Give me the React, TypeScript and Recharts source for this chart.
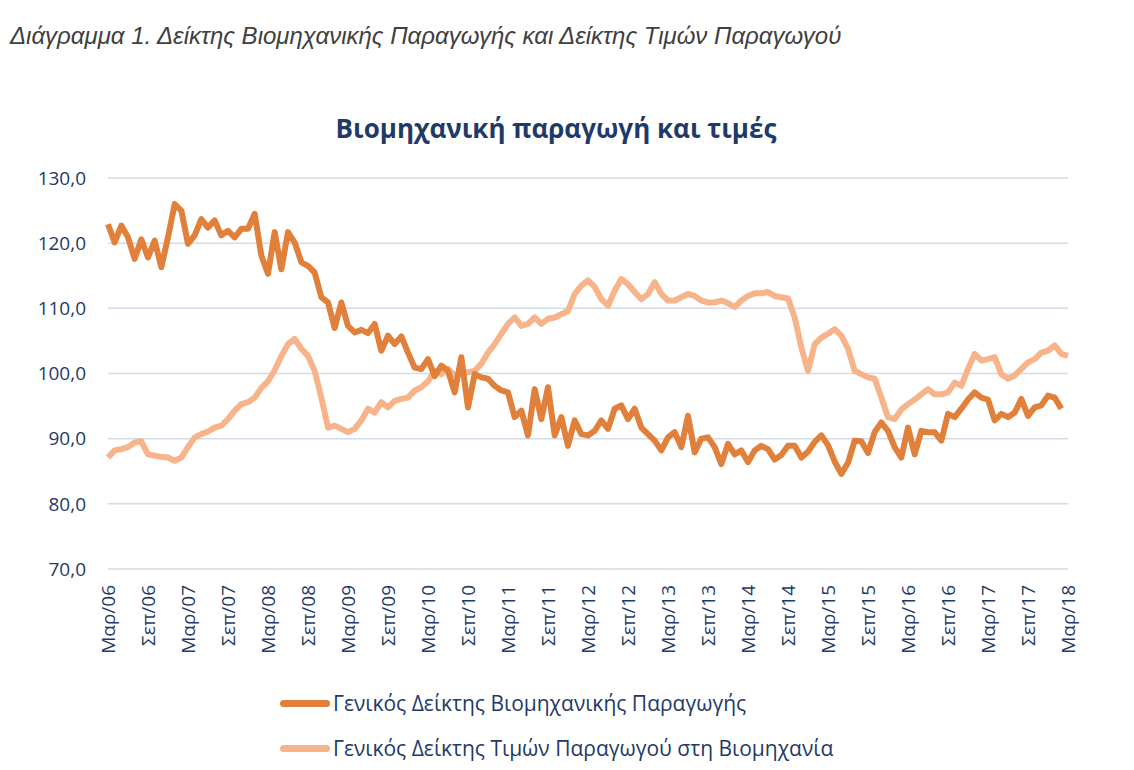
import { LineChart, Line, XAxis, YAxis, CartesianGrid } from 'recharts';

// month labels, Mar/06 .. Mar/18
const monthNames = ['Ιαν', 'Φεβ', 'Μαρ', 'Απρ', 'Μαϊ', 'Ιουν', 'Ιουλ', 'Αυγ', 'Σεπ', 'Οκτ', 'Νοε', 'Δεκ'];
const years = ['06', '07', '08', '09', '10', '11', '12', '13', '14', '15', '16', '17', '18'];

const categories: string[] = [];
years.forEach((yy, yi) => {
  monthNames.forEach((m, mi) => {
    if ((yi === 0 && mi < 2) || (yi === years.length - 1 && mi > 2)) return;
    categories.push(m + '/' + yy);
  });
});

// Γενικός Δείκτης Βιομηχανικής Παραγωγής
const industrialProduction: (number | null)[] = [
  122.9, 120.1, 122.7, 120.9, 117.6, 120.6, 117.8, 120.4, 116.3, 120.9,
  126.0, 125.0, 119.9, 121.2, 123.7, 122.4, 123.5, 121.2, 121.9, 120.9,
  122.2, 122.2, 124.5, 118.1, 115.3, 121.7, 116.0, 121.7, 120.1, 117.1,
  116.5, 115.5, 111.7, 110.9, 107.0, 110.9, 107.3, 106.3, 106.7, 106.2,
  107.6, 103.5, 105.8, 104.5, 105.7, 103.2, 100.9, 100.7, 102.2, 99.6,
  101.2, 100.4, 97.1, 102.5, 94.8, 99.9, 99.4, 99.2, 98.1, 97.4,
  97.1, 93.3, 94.3, 90.5, 97.6, 93.0, 97.9, 90.5, 93.3, 88.9,
  92.8, 90.7, 90.5, 91.2, 92.8, 91.5, 94.6, 95.1, 93.0, 94.6,
  91.7, 90.7, 89.7, 88.2, 90.2, 91.0, 88.7, 93.5, 87.9, 90.0,
  90.2, 88.7, 86.1, 89.2, 87.6, 88.2, 86.4, 88.2, 88.9, 88.4,
  86.8, 87.5, 88.9, 88.9, 87.1, 88.0, 89.5, 90.5, 89.0, 86.5,
  84.6, 86.3, 89.7, 89.6, 87.8, 91.0, 92.5, 91.2, 88.7, 87.1,
  91.7, 87.6, 91.2, 91.0, 91.0, 89.7, 93.8, 93.3, 94.6, 96.0,
  97.1, 96.3, 96.0, 92.8, 93.8, 93.3, 94.0, 96.1, 93.5, 94.8,
  95.1, 96.6, 96.3, 94.6, null,
];

// Γενικός Δείκτης Τιμών Παραγωγού στη Βιομηχανία
const producerPrices: number[] = [
  87.1, 88.2, 88.4, 88.7, 89.4, 89.6, 87.6, 87.4, 87.2, 87.1,
  86.6, 87.1, 88.7, 90.2, 90.7, 91.1, 91.7, 92.0, 93.0, 94.3,
  95.3, 95.6, 96.3, 97.8, 98.8, 100.5, 102.7, 104.5, 105.3, 103.8,
  102.7, 100.4, 96.3, 91.7, 92.0, 91.5, 91.0, 91.5, 92.8, 94.6,
  94.0, 95.6, 94.8, 95.8, 96.1, 96.3, 97.4, 97.9, 98.8, 100.4,
  99.9, 100.7, 99.7, 99.9, 100.2, 100.4, 101.5, 103.2, 104.5, 106.1,
  107.6, 108.6, 107.3, 107.6, 108.6, 107.6, 108.4, 108.6, 109.1, 109.6,
  112.2, 113.5, 114.3, 113.3, 111.4, 110.4, 112.7, 114.5, 113.7, 112.5,
  111.4, 112.2, 114.0, 112.2, 111.2, 111.2, 111.7, 112.2, 111.9, 111.2,
  110.9, 110.9, 111.2, 110.8, 110.2, 111.2, 111.9, 112.3, 112.3, 112.5,
  111.9, 111.7, 111.5, 108.6, 104.0, 100.4, 104.5, 105.5, 106.1, 106.8,
  105.8, 103.8, 100.4, 99.9, 99.4, 99.2, 96.3, 93.3, 93.0, 94.5,
  95.3, 96.0, 96.8, 97.6, 96.8, 96.8, 97.1, 98.6, 98.1, 100.7,
  103.0, 102.0, 102.2, 102.5, 99.9, 99.2, 99.7, 100.7, 101.7, 102.2,
  103.2, 103.5, 104.3, 103.0, 102.7,
];

const yTicks = [70, 80, 90, 100, 110, 120, 130];

const data = categories.map((name, i) => ({
  name,
  ip: industrialProduction[i],
  ppi: producerPrices[i],
}));

const navy = '#1F3A68';
const darkOrange = '#E0803A';
const lightOrange = '#F7B38A';
const font = '"Open Sans", "Noto Sans", sans-serif';

const XTick = (props: any) => {
  const { x, y, payload } = props;
  return (
    <text
      x={x}
      y={y}
      transform={`rotate(-90 ${x} ${y})`}
      textAnchor="end"
      dy="0.36em"
      fill={navy}
      fontSize={19}
      fontFamily={font}
    >
      {payload.value}
    </text>
  );
};

const App = () => {
  return (
    <div style={{ position: 'absolute', left: 0, top: 0, width: 1134, height: 770, background: '#fff' }}>
      <div
        style={{
          position: 'absolute',
          left: 10,
          top: 22,
          fontFamily: '"Liberation Sans", Arial, sans-serif',
          fontStyle: 'italic',
          fontSize: 24,
          color: '#404040',
          whiteSpace: 'nowrap',
        }}
      >
        Διάγραμμα 1. Δείκτης Βιομηχανικής Παραγωγής και Δείκτης Τιμών Παραγωγού
      </div>
      <div
        style={{
          position: 'absolute',
          left: 0,
          width: 1112,
          top: 110,
          textAlign: 'center',
          fontFamily: font,
          fontWeight: 700,
          fontSize: 26,
          color: navy,
          whiteSpace: 'nowrap',
        }}
      >
        Βιομηχανική παραγωγή και τιμές
      </div>

      <LineChart
        width={1134}
        height={770}
        data={data}
        style={{ position: 'absolute', left: 0, top: 0 }}
        margin={{ top: 178, right: 66, left: 8, bottom: 121 }}
      >
        <CartesianGrid vertical={false} stroke="#D3DBE8" strokeWidth={1.5} />
        <XAxis
          dataKey="name"
          interval={5}
          axisLine={false}
          tickLine={false}
          tickSize={0}
          tickMargin={16}
          height={80}
          tick={<XTick />}
        />
        <YAxis
          domain={[70, 130]}
          ticks={yTicks}
          width={100}
          axisLine={false}
          tickLine={false}
          tickSize={0}
          tickMargin={22}
          tick={{ fill: navy, fontSize: 19, fontFamily: font }}
          tickFormatter={(v: number) => v.toFixed(1).replace('.', ',')}
        />
        <Line
          dataKey="ppi"
          stroke={lightOrange}
          strokeWidth={6}
          dot={false}
          strokeLinejoin="round"
          isAnimationActive={false}
        />
        <Line
          dataKey="ip"
          stroke={darkOrange}
          strokeWidth={6}
          dot={false}
          strokeLinejoin="round"
          isAnimationActive={false}
        />
      </LineChart>

      {[
        { label: 'Γενικός Δείκτης Βιομηχανικής Παραγωγής', color: darkOrange, top: 689 },
        { label: 'Γενικός Δείκτης Τιμών Παραγωγού στη Βιομηχανία', color: lightOrange, top: 734 },
      ].map((item) => (
        <div
          key={item.label}
          style={{
            position: 'absolute',
            left: 280,
            top: item.top,
            height: 28,
            display: 'flex',
            alignItems: 'center',
            fontFamily: font,
            fontSize: 21,
            color: navy,
            whiteSpace: 'nowrap',
          }}
        >
          <span
            style={{
              display: 'inline-block',
              width: 50,
              height: 7,
              borderRadius: 3.5,
              background: item.color,
              marginRight: 3,
            }}
          />
          {item.label}
        </div>
      ))}
    </div>
  );
};

export default App;
